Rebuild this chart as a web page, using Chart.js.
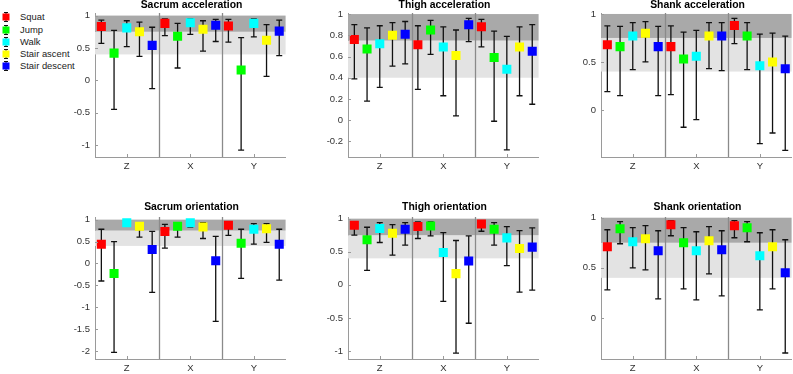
<!DOCTYPE html>
<html>
<head>
<meta charset="utf-8">
<script src="https://cdn.jsdelivr.net/npm/chart.js@4"></script>
<style>
  body { margin: 0; background: #fff; width: 793px; height: 374px; overflow: hidden; position: relative;
         font-family: "Liberation Sans", Arial, sans-serif; }
  canvas { position: absolute; }
  .title { position: absolute; width: 193px; text-align: center; font-weight: bold; font-size: 10.4px; color: #000; line-height: 12px; }
  .leg { position: absolute; left: 0; height: 12px; line-height: 12px; font-size: 9.4px; color: #222; white-space: nowrap; }
  .leg svg { position: absolute; left: 1px; top: 0; }
  .leg span { position: absolute; left: 20px; top: 0; }
</style>
</head>
<body>
<div id="legend"></div>
<script>
// categories
const groups = ['Z', 'X', 'Y'];
const activities = ['Squat', 'Jump', 'Walk', 'Stair ascent', 'Stair descent'];
const colors = ['#ff0000', '#00ff00', '#00ffff', '#ffff00', '#0000ff'];
const titles = ['Sacrum acceleration', 'Thigh acceleration', 'Shank acceleration',
                'Sacrum orientation', 'Thigh orientation', 'Shank orientation'];

// shaded agreement bands
const bandLow = [0.4, 0.75];
const bandHigh = [0.75, 1];

// values per group [Z, X, Y], each with one value per activity
const sacrumAccMean = [[0.83, 0.42, 0.81, 0.75, 0.54], [0.88, 0.68, 0.89, 0.79, 0.85], [0.84, 0.16, 0.88, 0.62, 0.76]];
const sacrumAccHi   = [[0.93, 0.77, 0.92, 0.90, 0.82], [0.95, 0.88, 0.95, 0.92, 0.94], [0.94, 0.66, 0.95, 0.86, 0.93]];
const sacrumAccLo   = [[0.57, -0.45, 0.52, 0.37, -0.13], [0.69, 0.19, 0.71, 0.45, 0.60], [0.59, -1.08, 0.67, 0.06, 0.38]];

const thighAccMean = [[0.76, 0.67, 0.72, 0.80, 0.81], [0.71, 0.85, 0.69, 0.61, 0.90], [0.88, 0.59, 0.48, 0.69, 0.65]];
const thighAccHi   = [[0.90, 0.87, 0.89, 0.92, 0.93], [0.89, 0.94, 0.88, 0.85, 0.96], [0.95, 0.84, 0.79, 0.88, 0.90]];
const thighAccLo   = [[0.39, 0.18, 0.31, 0.51, 0.53], [0.29, 0.62, 0.23, 0.04, 0.74], [0.69, -0.01, -0.28, 0.23, 0.15]];

const shankAccMean = [[0.68, 0.66, 0.77, 0.80, 0.66], [0.66, 0.53, 0.56, 0.77, 0.77], [0.88, 0.77, 0.46, 0.50, 0.43]];
const shankAccHi   = [[0.875, 0.87, 0.91, 0.92, 0.87], [0.875, 0.81, 0.83, 0.91, 0.91], [0.955, 0.91, 0.79, 0.80, 0.77]];
const shankAccLo   = [[0.19, 0.15, 0.42, 0.50, 0.15], [0.16, -0.18, -0.10, 0.43, 0.41], [0.69, 0.42, -0.35, -0.24, -0.42]];

const sacrumOriMean = [[0.44, -0.23, 0.93, 0.85, 0.32], [0.73, 0.85, 0.93, 0.83, 0.06], [0.87, 0.46, 0.78, 0.79, 0.44]];
const sacrumOriHi   = [[0.78, 0.50, 1.0, 0.93, 0.73], [0.89, 0.93, 0.99, 0.93, 0.62], [0.93, 0.78, 0.91, 0.91, 0.78]];
const sacrumOriLo   = [[-0.40, -2.03, 0.86, 0.60, -0.66], [0.35, 0.60, 0.83, 0.57, -1.32], [0.64, -0.34, 0.44, 0.48, -0.38]];

const thighOriMean = [[0.90, 0.68, 0.85, 0.78, 0.84], [0.88, 0.89, 0.49, 0.17, 0.36], [0.92, 0.84, 0.71, 0.55, 0.57]];
const thighOriHi   = [[0.95, 0.87, 0.94, 0.91, 0.94], [0.95, 0.95, 0.79, 0.67, 0.74], [0.96, 0.94, 0.88, 0.82, 0.86]];
const thighOriLo   = [[0.75, 0.22, 0.64, 0.45, 0.60], [0.70, 0.74, -0.25, -1.03, -0.58], [0.81, 0.60, 0.29, -0.11, -0.08]];

const shankOriMean = [[0.71, 0.89, 0.76, 0.79, 0.67], [0.93, 0.75, 0.67, 0.77, 0.68], [0.92, 0.90, 0.62, 0.71, 0.45]];
const shankOriHi   = [[0.88, 0.96, 0.90, 0.92, 0.87], [0.97, 0.90, 0.86, 0.91, 0.87], [0.97, 0.96, 0.85, 0.88, 0.78]];
const shankOriLo   = [[0.28, 0.74, 0.50, 0.48, 0.19], [0.82, 0.29, 0.18, 0.44, 0.22], [0.80, 0.76, 0.08, 0.29, -0.35]];

// y tick labels per panel
const sacrumAccTicks = [-1, -0.5, 0, 0.5, 1];
const thighAccTicks = [-0.2, 0, 0.2, 0.4, 0.6, 0.8, 1];
const shankAccTicks = [0, 0.5, 1];
const sacrumOriTicks = [-2, -1.5, -1, -0.5, 0, 0.5, 1];
const thighOriTicks = [-1, -0.5, 0, 0.5, 1];
const shankOriTicks = [0, 0.5, 1];

const panels = [
  { mean: sacrumAccMean, hi: sacrumAccHi, lo: sacrumAccLo, ticks: sacrumAccTicks, min: -1.185, max: 1.04, left: 95, top: 0 },
  { mean: thighAccMean, hi: thighAccHi, lo: thighAccLo, ticks: thighAccTicks, min: -0.347, max: 1.01, left: 348, top: 0 },
  { mean: shankAccMean, hi: shankAccHi, lo: shankAccLo, ticks: shankAccTicks, min: -0.49, max: 1.01, left: 601, top: 0 },
  { mean: sacrumOriMean, hi: sacrumOriHi, lo: sacrumOriLo, ticks: sacrumOriTicks, min: -2.18, max: 1.06, left: 95, top: 204 },
  { mean: thighOriMean, hi: thighOriHi, lo: thighOriLo, ticks: thighOriTicks, min: -1.12, max: 1.025, left: 348, top: 204 },
  { mean: shankOriMean, hi: shankOriHi, lo: shankOriLo, ticks: shankOriTicks, min: -0.41, max: 1.007, left: 601, top: 204 }
];

const axisColor = '#9a9a9a';
const tickFont = { family: '"Liberation Sans", Arial, sans-serif', size: 9.5 };

// bands, group separators and error bars, drawn under the markers
const errorBarPlugin = {
  id: 'errorBars',
  beforeDatasetsDraw(chart, args, opts) {
    const { ctx, chartArea: a, scales: { x, y } } = chart;
    ctx.save();
    ctx.fillStyle = '#e3e3e3';
    ctx.fillRect(a.left, y.getPixelForValue(bandLow[1]), a.width, y.getPixelForValue(bandLow[0]) - y.getPixelForValue(bandLow[1]));
    ctx.fillStyle = '#a9a9a9';
    ctx.fillRect(a.left, y.getPixelForValue(bandHigh[1]), a.width, y.getPixelForValue(bandHigh[0]) - y.getPixelForValue(bandHigh[1]));

    ctx.strokeStyle = '#8a8a8a';
    ctx.lineWidth = 1.3;
    [1.5, 2.5].forEach(v => {
      const px = Math.round(x.getPixelForValue(v)) + 0.5;
      ctx.beginPath();
      ctx.moveTo(px, a.top);
      ctx.lineTo(px, a.bottom);
      ctx.stroke();
    });

    ctx.strokeStyle = '#111';
    ctx.lineWidth = 1.3;
    chart.data.datasets.forEach((ds, ai) => {
      ds.data.forEach((p, gi) => {
        const px = x.getPixelForValue(p.x);
        const top = y.getPixelForValue(opts.hi[gi][ai]);
        const bot = y.getPixelForValue(opts.lo[gi][ai]);
        ctx.beginPath();
        ctx.moveTo(px, top); ctx.lineTo(px, bot);
        ctx.moveTo(px - 3, top); ctx.lineTo(px + 3, top);
        ctx.moveTo(px - 3, bot); ctx.lineTo(px + 3, bot);
        ctx.stroke();
      });
    });
    ctx.restore();
  },
  afterDraw(chart) {
    // small inward ticks like the original axes
    const { ctx, chartArea: a, scales: { x, y } } = chart;
    ctx.save();
    ctx.strokeStyle = axisColor;
    ctx.lineWidth = 1;
    ctx.beginPath();
    [1, 2, 3].forEach(v => {
      const px = Math.round(x.getPixelForValue(v)) + 0.5;
      ctx.moveTo(px, a.bottom); ctx.lineTo(px, a.bottom - 3);
    });
    y.ticks.forEach(t => {
      const py = Math.round(y.getPixelForValue(t.value)) + 0.5;
      ctx.moveTo(a.left, py); ctx.lineTo(a.left + 3, py);
    });
    ctx.stroke();
    ctx.restore();
  }
};

panels.forEach((p, i) => {
  const canvas = document.createElement('canvas');
  const h = p.top === 0 ? 182 : 170;
  const xh = p.top === 0 ? 25 : 15;
  canvas.width = 232;
  canvas.height = h;
  canvas.style.left = (p.left - 35) + 'px';
  canvas.style.top = p.top + 'px';
  document.body.appendChild(canvas);

  const t = document.createElement('div');
  t.className = 'title';
  t.textContent = titles[i];
  t.style.left = p.left + 'px';
  t.style.top = (p.top === 0 ? -1 : 201) + 'px';
  document.body.appendChild(t);

  new Chart(canvas.getContext('2d'), {
    type: 'scatter',
    data: {
      datasets: activities.map((name, ai) => ({
        label: name,
        data: groups.map((g, gi) => ({ x: gi + 1 + (ai - 2) * 0.2, y: p.mean[gi][ai] })),
        backgroundColor: colors[ai],
        borderColor: colors[ai],
        pointStyle: 'rect',
        pointRadius: 6.4,
        pointBorderWidth: 0,
        pointHoverRadius: 6.4
      }))
    },
    options: {
      responsive: false,
      animation: false,
      devicePixelRatio: 1,
      layout: { padding: { top: 13, left: 0, right: 4, bottom: 0 } },
      plugins: {
        legend: { display: false },
        tooltip: { enabled: false },
        errorBars: { hi: p.hi, lo: p.lo }
      },
      scales: {
        x: {
          type: 'linear', min: 0.5, max: 3.5,
          afterBuildTicks: s => { s.ticks = [1, 2, 3].map(v => ({ value: v })); },
          afterFit: s => { s.height = xh; },
          ticks: { callback: v => groups[v - 1], color: '#333', font: tickFont, padding: 4, maxRotation: 0 },
          grid: { display: false, drawTicks: false },
          border: { color: axisColor, width: 1 }
        },
        y: {
          min: p.min, max: p.max,
          afterBuildTicks: s => { s.ticks = p.ticks.map(v => ({ value: v })); },
          afterFit: s => { s.width = 35; },
          ticks: { callback: v => String(v), color: '#333', font: tickFont, padding: 5 },
          grid: { display: false, drawTicks: false },
          border: { color: axisColor, width: 1 }
        }
      }
    },
    plugins: [errorBarPlugin]
  });
});

// legend
const legendRows = [17.3, 29.6, 41.9, 53.5, 65.7];
const legend = document.getElementById('legend');
activities.forEach((name, ai) => {
  const row = document.createElement('div');
  row.className = 'leg';
  row.style.top = (legendRows[ai] - 6) + 'px';
  row.innerHTML = '<svg width="10" height="12"><path d="M5 1V11M3 1.5H7M3 10.5H7" stroke="#111" stroke-width="1"/>' +
    '<rect x="1.5" y="2.5" width="7" height="7" fill="' + colors[ai] + '"/></svg><span></span>';
  row.querySelector('span').textContent = name;
  legend.appendChild(row);
});
</script>
</body>
</html>
